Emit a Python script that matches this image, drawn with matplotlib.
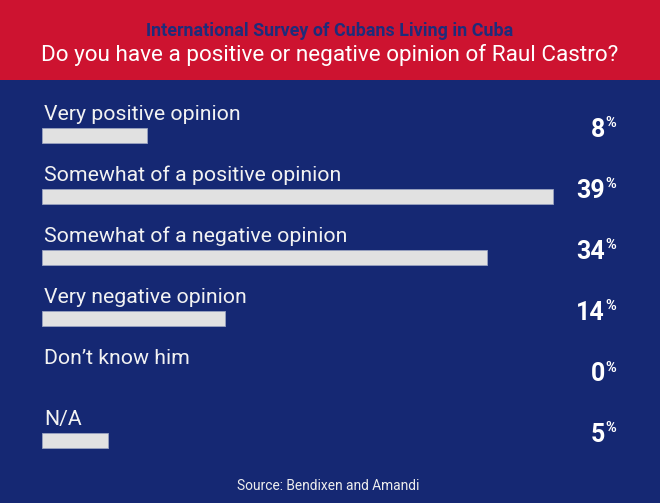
import matplotlib
matplotlib.use("Agg")
import matplotlib.pyplot as plt
from matplotlib.patches import Rectangle
from matplotlib import font_manager

# ---- data ----
categories = [
    "Very positive opinion",
    "Somewhat of a positive opinion",
    "Somewhat of a negative opinion",
    "Very negative opinion",
    "Don\u2019t know him",
    "N/A",
]
values = [8, 39, 34, 14, 0, 5]
value_labels = ["8", "39", "34", "14", "0", "5"]
supertitle = "International Survey of Cubans Living in Cuba"
title = "Do you have a positive or negative opinion of Raul Castro?"
source = "Source: Bendixen and Amandi"

# ---- style ----
RED = "#CD1330"
BLUE = "#152873"
DARKBLUE = "#1E2C7A"
BAR = "#E1E1E1"
W, H = 660, 503

fams = {f.name for f in font_manager.fontManager.ttflist}
FONT = "Roboto" if "Roboto" in fams else "DejaVu Sans"
plt.rcParams["font.family"] = [FONT, "DejaVu Sans"]

fig = plt.figure(figsize=(W / 100, H / 100), dpi=100, facecolor=BLUE)
ax = fig.add_axes([0, 0, 1, 1])
ax.set_facecolor(BLUE)
ax.axis("off")

# pixel mapping: x_px = 42 + scale*v ; row i centre at y_px = 135.5 + 61*i
scale = 13.1
x0 = 42
row0, pitch = 135.5, 61.0
ax.set_xlim(-x0 / scale, (W - x0) / scale)
ax.set_ylim((H - row0) / pitch, -row0 / pitch)

px = 1.0 / pitch  # one vertical pixel in data units
bar_h = 15 * px
for i, (cat, v, lab) in enumerate(zip(categories, values, value_labels)):
    if v > 0:
        ax.barh(i, v, height=bar_h, left=0, color=BAR,
                edgecolor="#9AA3C0", linewidth=0.6)
    ax.text(2 / scale, i - 15.5 * px, cat, color="#F2F2F2", fontsize=15.3,
            fontweight="normal", va="baseline", ha="left")
    ax.text((605 - x0) / scale, i + 1.5 * px, lab, color="white",
            fontsize=18, fontweight="bold", va="baseline", ha="right")
    ax.text((605.5 - x0) / scale, i - 8 * px, "%", color="white",
            fontsize=10.5, fontweight="bold", va="baseline", ha="left")

# header
fig.patches.append(Rectangle((0, 1 - 80 / H), 1, 80 / H, transform=fig.transFigure,
                             facecolor=RED, edgecolor="none", zorder=0))
fig.text(0.5, 1 - 31 / H, supertitle, color=DARKBLUE, fontsize=12.9,
         fontweight="bold", ha="center", va="center")
fig.text(0.5, 1 - 55 / H, title, color="white", fontsize=16.2,
         ha="center", va="center")
fig.text(0.497, 1 - 486 / H, source, color="#EDEDED", fontsize=9.9,
         ha="center", va="center")

fig.savefig("out.png", dpi=100, facecolor=BLUE)
